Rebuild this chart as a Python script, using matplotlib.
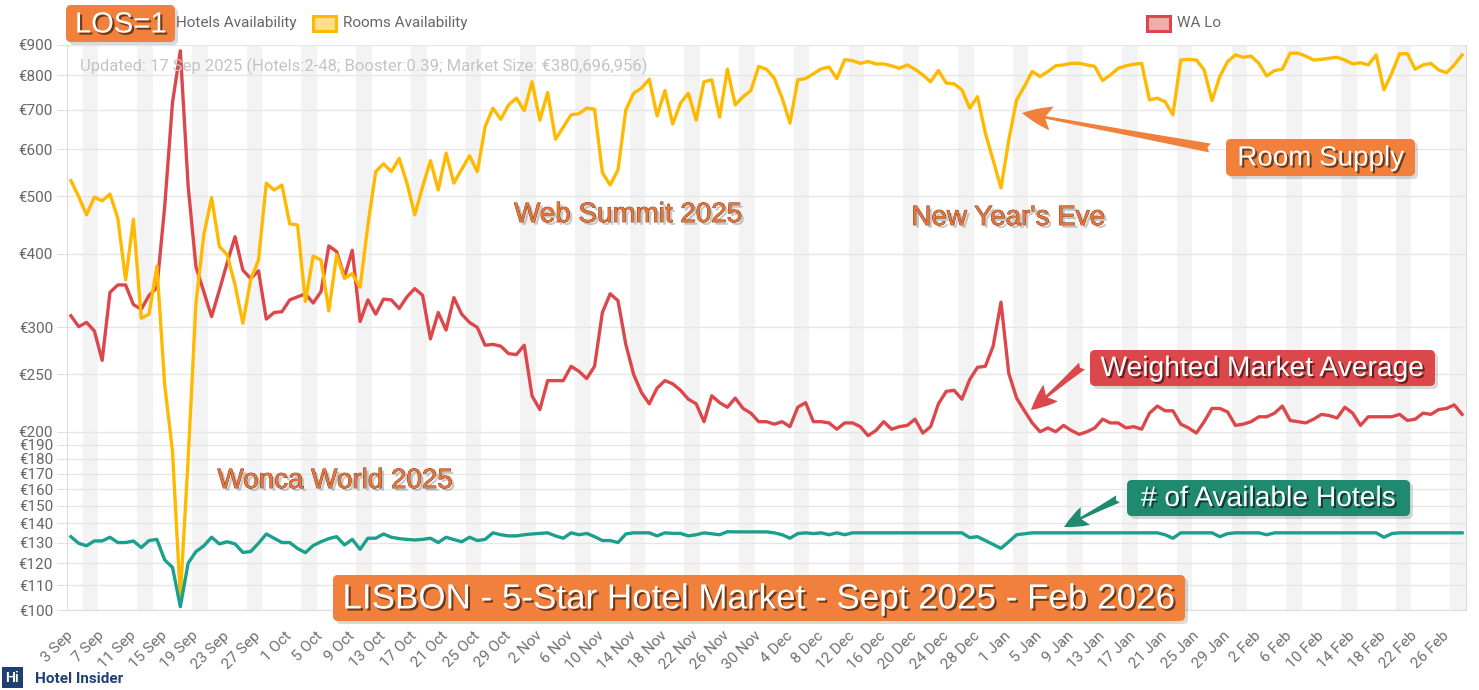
import matplotlib
matplotlib.use("Agg")
import matplotlib.pyplot as plt
import matplotlib.patheffects as pe
from matplotlib.patches import FancyBboxPatch, FancyArrowPatch, Rectangle
from matplotlib.ticker import NullLocator, NullFormatter
from matplotlib.transforms import Affine2D
import pandas as pd

# daily values, 3 Sep 2025 .. 28 Feb 2026
dates = pd.date_range("2025-09-03", "2026-02-28", freq="D")

wa_lo = [
    314, 301, 306, 296, 264, 344, 354, 354, 328, 322,
    340, 350, 480, 720, 880, 520, 380, 345, 313, 347,
    386, 427, 375, 363, 374, 310, 318, 319, 334, 338,
    342, 330, 345, 412, 403, 365, 405, 307, 334, 316,
    335, 334, 323, 338, 349, 340, 287, 318, 297, 337,
    316, 306, 300, 280, 281, 279, 271, 270, 280, 230,
    218, 244, 244, 244, 258, 253, 246, 258, 318, 342,
    333, 281, 250, 233, 223, 237, 244, 241, 235, 227,
    223, 208, 230, 224, 220, 228, 219, 215, 208, 208,
    206, 208, 204, 220, 224, 208, 208, 207, 202, 207,
    207, 204, 197, 201, 208, 202, 204, 205, 210, 199,
    204, 223, 234, 235, 227, 245, 257, 258, 279, 331,
    251, 228, 217, 207, 200, 203, 200, 205, 201, 198,
    200, 203, 210, 207, 207, 203, 204, 202, 215, 221,
    217, 217, 206, 203, 199, 208, 219, 219, 216, 205,
    206, 208, 212, 212, 215, 221, 209, 208, 207, 210,
    214, 213, 211, 220, 215, 205, 212, 212, 212, 212,
    214, 209, 210, 215, 214, 218, 219, 222, 214,
]

rooms_availability = [
    531, 499, 465, 498, 491, 504, 459, 361, 457, 311,
    316, 381, 240, 185, 105, 180, 330, 430, 497, 411,
    398, 354, 305, 361, 390, 526, 512, 522, 449, 447,
    332, 396, 390, 320, 398, 363, 370, 351, 447, 550,
    567, 550, 579, 526, 465, 519, 574, 512, 591, 526,
    555, 585, 550, 655, 704, 674, 713, 732, 697, 780,
    672, 748, 624, 654, 686, 689, 704, 701, 548, 522,
    554, 699, 746, 761, 788, 683, 754, 662, 718, 746,
    672, 780, 786, 680, 819, 713, 736, 754, 828, 819,
    791, 732, 664, 786, 790, 805, 820, 826, 790, 850,
    847, 838, 844, 836, 836, 830, 822, 833, 819, 801,
    780, 815, 776, 774, 756, 704, 736, 639, 575, 516,
    622, 727, 766, 812, 796, 812, 830, 833, 838, 838,
    833, 828, 784, 801, 822, 830, 835, 838, 727, 732,
    722, 686, 849, 851, 849, 817, 725, 796, 844, 866,
    858, 862, 838, 798, 815, 819, 872, 872, 862, 849,
    851, 855, 858, 849, 836, 840, 833, 866, 756, 806,
    870, 870, 819, 833, 838, 817, 808, 833, 866,
]

hotels_availability = [
    133, 129.6, 128.4, 130.8, 130.8, 132.7, 130, 130, 130.8, 127.5,
    131, 131.6, 121.5, 118, 101.3, 120, 125.5, 128.3, 132.7, 129.3,
    130.4, 129.3, 125.1, 125.5, 129.6, 134.4, 132.2, 130, 130, 127,
    125, 128.5, 130.4, 132, 133, 128.8, 131.6, 126.6, 132.2, 132.2,
    134.4, 132.7, 132, 131.6, 131.3, 131.6, 132.2, 130, 132.7, 131.5,
    130.4, 132.7, 131, 131.6, 135, 134, 133.4, 133.4, 134, 134.4,
    134.7, 135, 133.4, 132.2, 135, 134, 134.7, 133, 131, 131,
    130, 134.4, 135, 135, 135, 133.4, 135, 134.7, 134.7, 133.4,
    134, 135, 134.5, 134, 135.6, 135.5, 135.5, 135.5, 135.5, 135.5,
    135, 134, 132.2, 134.6, 135, 134.6, 135, 134, 135, 134,
    135, 135, 135, 135, 135, 135, 135, 135, 135, 135,
    135, 135, 135, 135, 135, 132.5, 133, 131, 129, 127.1,
    130.4, 134, 134.5, 135, 135, 135, 135, 135, 135, 135,
    135, 135, 135, 135, 135, 135, 135, 135, 135, 135,
    134, 132.2, 135, 135, 135, 135, 135, 133, 134.6, 135,
    135, 135, 135, 134, 135, 135, 135, 135, 135, 135,
    135, 135, 135, 135, 135, 135, 135, 135, 132.7, 134.6,
    135, 135, 135, 135, 135, 135, 135, 135, 135,
]

y_ticks = [100, 110, 120, 130, 140, 150, 160, 170, 180, 190, 200,
           250, 300, 400, 500, 600, 700, 800, 900]
label_step = 4

W, H = 1479, 690
ORANGE = "#F0803C"
EVENT = "#E8743A"
RED = "#DC474B"
YELLOW = "#FFB900"
TEAL = "#1BA08D"
GREEN = "#1F8A70"
GREY = "#666666"
SANS = ["Liberation Sans", "DejaVu Sans"]

plt.rcParams["font.family"] = ["Roboto", "DejaVu Sans"]

fig = plt.figure(figsize=(W / 100, H / 100), dpi=100)
fig.patch.set_facecolor("white")
# pixel coords, origin top-left
pix = Affine2D().scale(1 / W, -1 / H).translate(0, 1) + fig.transFigure

ax = fig.add_axes([67 / W, 1 - 610 / H, (1466 - 67) / W, (610 - 45) / H])
xs = list(range(len(dates)))

# Fri + Sat nights shaded
for i, d in enumerate(dates):
    if d.weekday() == 4:
        ax.axvspan(i - 0.5, i + 1.5, color="#f3f3f3", lw=0, zorder=0)

ax.plot(xs, wa_lo, color=RED, lw=2.4, zorder=3, solid_joinstyle="round")
ax.plot(xs, rooms_availability, color=YELLOW, lw=2.4, zorder=4, solid_joinstyle="round")
ax.plot(xs, hotels_availability, color=TEAL, lw=2.4, zorder=5, solid_joinstyle="round")

ax.set_yscale("log")
ax.set_ylim(100, 900)
ax.set_xlim(-0.5, len(dates) - 0.5)
ax.set_yticks(y_ticks)
ax.set_yticklabels([f"€{v}" for v in y_ticks])
ax.yaxis.set_minor_locator(NullLocator())
ax.yaxis.set_minor_formatter(NullFormatter())
ax.tick_params(axis="y", length=7, color="#e0e0e0", pad=3, labelsize=11, labelcolor=GREY)

ax.set_xticks(xs[::label_step])
ax.set_xticklabels([f"{d.day} {d:%b}" for d in dates[::label_step]],
                   rotation=45, ha="right", va="center", rotation_mode="anchor")
ax.tick_params(axis="x", length=0, pad=17, labelsize=11, labelcolor="#707070")

ax.grid(axis="y", color="#e6e6e6", lw=1)
ax.set_axisbelow(True)
ax.spines["top"].set_visible(False)
for side in ["left", "bottom", "right"]:
    ax.spines[side].set_color("#dddddd")


def text_fx():
    return [pe.SimplePatchShadow(offset=(1.5, -1.5), shadow_rgbFace="black", alpha=0.55),
            pe.Normal()]


def boxed_label(x0, y0, x1, y1, text, color, size):
    shadow = FancyBboxPatch((x0 + 3, y0 + 3), x1 - x0, y1 - y0,
                            boxstyle="round,pad=0,rounding_size=5",
                            transform=pix, fc="black", alpha=0.15, ec="none")
    box = FancyBboxPatch((x0, y0), x1 - x0, y1 - y0,
                         boxstyle="round,pad=0,rounding_size=5",
                         transform=pix, fc=color, ec="none")
    fig.add_artist(shadow)
    fig.add_artist(box)
    fig.text((x0 + x1) / 2, (y0 + y1) / 2 + 1, text, transform=pix, ha="center",
             va="center", color="white", fontsize=size, family=SANS,
             path_effects=text_fx())


def arrow(tail, tip, color, head_len, head_w, tail_w):
    a = FancyArrowPatch(tail, tip, transform=pix, color=color, lw=0,
                        arrowstyle=f"fancy,head_length={head_len},head_width={head_w},tail_width={tail_w}",
                        mutation_scale=0.72, shrinkA=0, shrinkB=0)
    fig.add_artist(a)


def event_label(x, y, text):
    fig.text(x, y, text, transform=pix, ha="center", va="center", color=EVENT,
             fontsize=20, family=SANS,
             path_effects=[pe.SimplePatchShadow(offset=(2, -2), shadow_rgbFace="#777", alpha=0.4),
                           pe.Stroke(linewidth=0.6, foreground="#6b3c1f"), pe.Normal()])


# legend (chart.js style)
legend_items = [("Hotels Availability", TEAL, 146), ("Rooms Availability", YELLOW, 313), ("WA Lo", RED, 1147)]
for label, color, lx in legend_items:
    fig.add_artist(Rectangle((lx, 16), 23, 15, transform=pix, fc=color, alpha=0.45, ec="none"))
    fig.add_artist(Rectangle((lx, 16), 23, 15, transform=pix, fc="none", ec=color, lw=2.2))
    fig.text(lx + 30, 23, label, transform=pix, ha="left", va="center", color=GREY, fontsize=11)

fig.text(80, 66, "Updated: 17 Sep 2025 (Hotels:2-48; Booster:0.39; Market Size: €380,696,956)",
         transform=pix, ha="left", va="center", color="#c4c4c4", fontsize=12)

boxed_label(66, 5, 175, 42, "LOS=1", ORANGE, 21)
boxed_label(1226, 139, 1415, 176, "Room Supply", ORANGE, 20)
boxed_label(1090, 350, 1435, 386, "Weighted Market Average", RED, 20.3)
boxed_label(1127, 480, 1410, 516, "# of Available Hotels", GREEN, 20.3)
boxed_label(333, 575, 1185, 621, "LISBON - 5-Star Hotel Market - Sept 2025 - Feb 2026", ORANGE, 25.2)

arrow((1210, 148), (1022, 113), ORANGE, 30, 24, 9)
arrow((1082, 366), (1031, 410), RED, 26, 22, 9)
arrow((1118, 499), (1064, 527), GREEN, 24, 20, 8)

event_label(628, 215, "Web Summit 2025")
event_label(1008, 218, "New Year's Eve")
event_label(335, 481, "Wonca World 2025")

# footer logo
fig.add_artist(Rectangle((2, 667), 21, 21, transform=pix, fc="#1d3f72", ec="none"))
fig.text(12.5, 678, "Hi", transform=pix, ha="center", va="center", color="white",
         fontsize=10, fontweight="bold", family=SANS)
fig.text(35, 679, "Hotel Insider", transform=pix, ha="left", va="center", color="#233f7a",
         fontsize=11, fontweight="bold")

fig.savefig("out.png", dpi=100)
